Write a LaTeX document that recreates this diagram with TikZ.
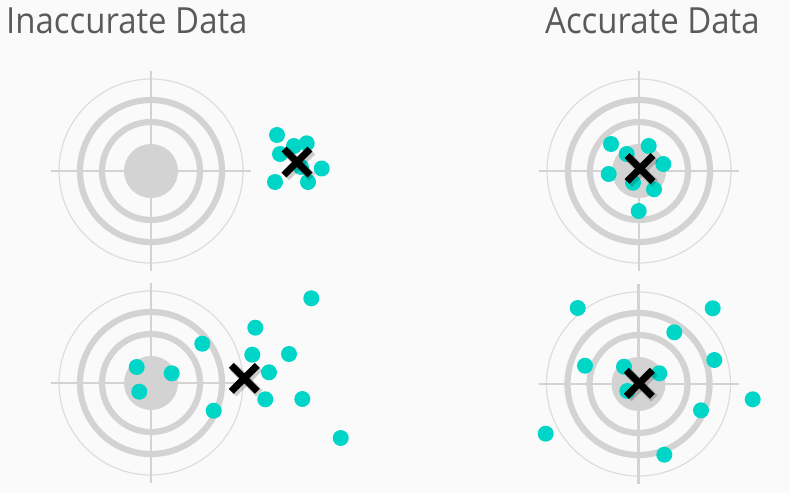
\documentclass[tikz,border=0pt]{standalone}
\usepackage{fontspec}
\setmainfont{Open Sans}
\usetikzlibrary{calc}
\definecolor{bg}{HTML}{FAFAFA}
\definecolor{ring}{HTML}{D3D3D3}
\definecolor{thin}{HTML}{DDDDDD}
\definecolor{dotc}{RGB}{0,214,200}
\definecolor{titlec}{HTML}{5A5A5A}
\tikzset{
  thickring/.style={draw=ring, line width=6.2pt},
  thinring/.style={draw=thin, line width=1.2pt},
  hair/.style={draw=ring, line width=2.6pt},
  hit/.style={fill=dotc},
  mark x/.style={draw=black, line width=7pt},
  mark shadow/.style={draw=black, opacity=0.18, line width=9pt},
  title/.style={font=\fontsize{36}{40}\selectfont, text=titlec, inner sep=0pt, anchor=base west}
}
\newcommand\drawtarget[1]{%
  \draw[thinring] (#1) circle (92);
  \draw[thickring] (#1) circle (71);
  \draw[thickring] (#1) circle (49);
  \fill[ring] (#1) circle (27);
  \draw[hair] ($(#1)+(-100,0)$) -- ($(#1)+(100,0)$);
  \draw[hair] ($(#1)+(0,-100)$) -- ($(#1)+(0,100)$);
}
\newcommand\drawmark[1]{%
  \draw[mark shadow] ($(#1)+(-11,-11)$) -- ($(#1)+(15,15)$);
  \draw[mark shadow] ($(#1)+(15,-11)$) -- ($(#1)+(-11,15)$);
  \draw[mark x] ($(#1)+(-13,-13)$) -- ($(#1)+(13,13)$);
  \draw[mark x] ($(#1)+(13,-13)$) -- ($(#1)+(-13,13)$);
}
\begin{document}
\begin{tikzpicture}[x=1pt,y=-1pt]
\fill[bg] (0,0) rectangle (790,493);
\useasboundingbox (0,0) rectangle (790,493);
\node[title] (t1) at (6,33) {\scalebox{0.915}[1]{Inaccurate Data}};
\node[title] (t2) at (545,33) {\scalebox{0.915}[1]{Accurate Data}};
\coordinate (c1) at (151,171);
\coordinate (c2) at (639,171);
\coordinate (c3) at (151,383);
\coordinate (c4) at (638.5,384);
\drawtarget{c1}
\drawtarget{c2}
\drawtarget{c3}
\drawtarget{c4}
% top left
\foreach \p in {(277,135),(306.7,143.3),(294,146),(280,154),(321.7,168.5),(308,182),(275,182),(301,167)}
  \fill[hit] \p circle (8);
\coordinate (x1) at (297,162);
\drawmark{x1}
% top right
\foreach \p in {(611,144),(648.7,146),(626.7,154),(663.3,164),(608.7,174),(633,182.7),(654,189.3),(638.7,211)}
  \fill[hit] \p circle (8);
\coordinate (x2) at (640,168.5);
\drawmark{x2}
% bottom left
\foreach \p in {(311.3,298.3),(255.3,327.7),(202.3,343.7),(252.3,354.7),(289,354),(136.7,367),(171.7,373.3),(269,372.3),(139.3,391.7),(265.3,399.3),(302.3,399),(213.7,410.7),(340.7,438)}
  \fill[hit] \p circle (8);
\coordinate (x3) at (244.3,378.3);
\drawmark{x3}
% bottom right
\foreach \p in {(577.7,308),(712.7,308.3),(674.3,332.3),(714.3,360),(585,365.7),(624,366.7),(659.3,373.3),(752.7,399.3),(627.3,391),(701,410.3),(545.7,433.7),(664.3,454.7)}
  \fill[hit] \p circle (8);
\coordinate (x4) at (639.3,383.3);
\drawmark{x4}
\end{tikzpicture}
\end{document}
